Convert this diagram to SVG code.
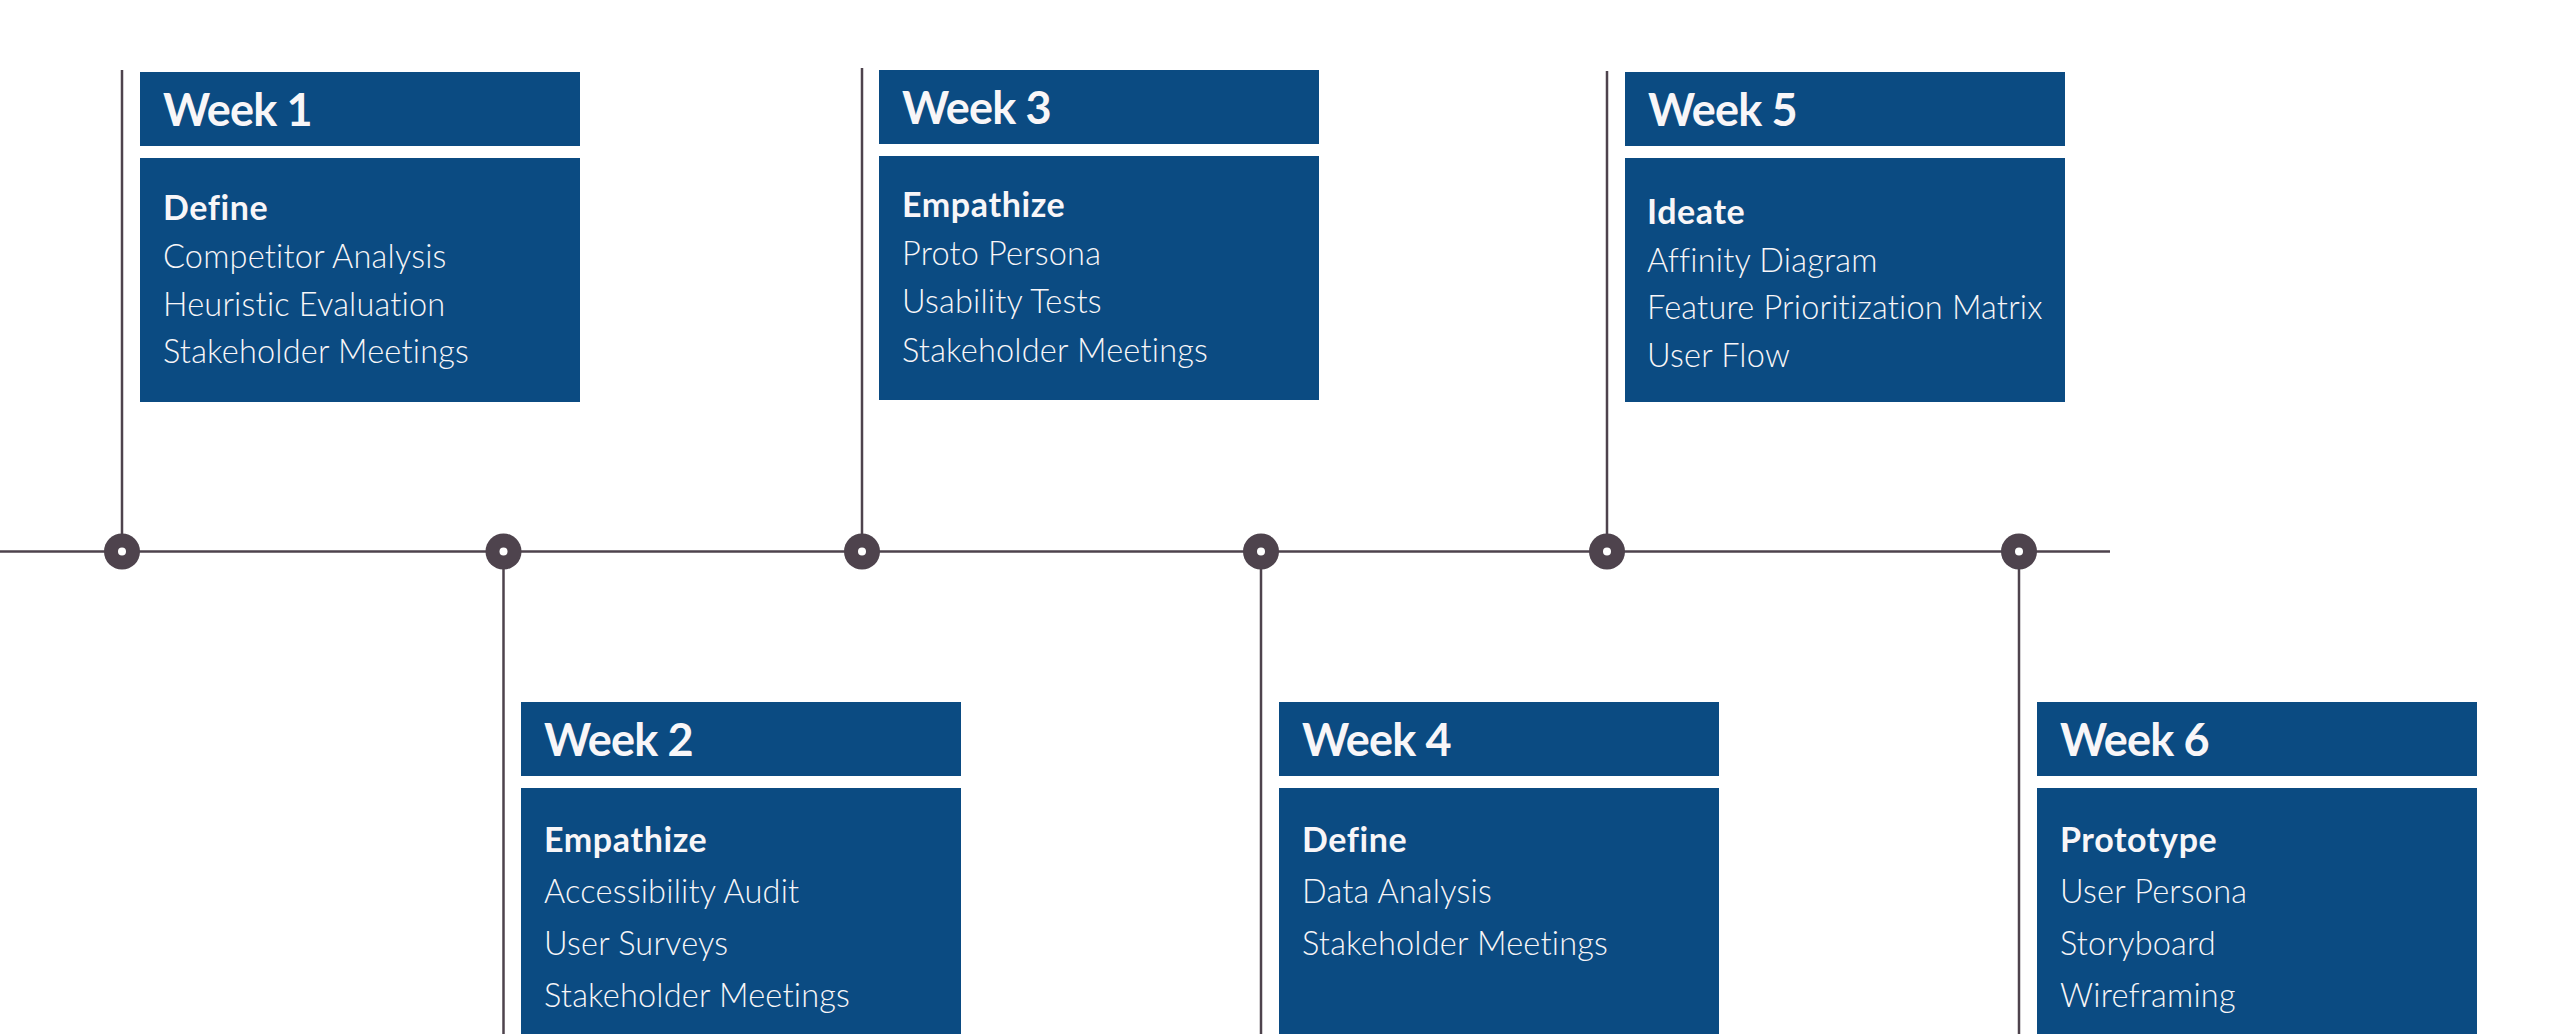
<svg xmlns="http://www.w3.org/2000/svg" width="2560" height="1034" viewBox="0 0 2560 1034">
<style>
  .box { fill: #0b4b82; }
  .line { stroke: #4e434d; stroke-width: 2.5; fill: none; }
  .dot { fill: #4e434d; }
  .hole { fill: #ffffff; }
  .title { font-family: Lato, "Liberation Sans", sans-serif; font-weight: 700; font-size: 45px; letter-spacing: -0.8px; fill: #f8f6f8; }
  .phase { font-family: Lato, "Liberation Sans", sans-serif; font-weight: 700; font-size: 34px; letter-spacing: 0.6px; fill: #f8f6f8; }
  .item { font-family: Lato, "Liberation Sans", sans-serif; font-weight: 300; font-size: 32.5px; letter-spacing: 0.2px; fill: #f8f6f8; }
</style>
<rect width="2560" height="1034" fill="#ffffff"/>
<g id="connectors">
  <line class="line" x1="0" y1="551.5" x2="2110" y2="551.5"/>
  <line class="line" x1="122" y1="70" x2="122" y2="551.5"/>
  <line class="line" x1="862" y1="68" x2="862" y2="551.5"/>
  <line class="line" x1="1607" y1="71" x2="1607" y2="551.5"/>
  <line class="line" x1="503.5" y1="551.5" x2="503.5" y2="1034"/>
  <line class="line" x1="1261" y1="551.5" x2="1261" y2="1034"/>
  <line class="line" x1="2019" y1="551.5" x2="2019" y2="1034"/>
</g>
<g id="markers">
  <circle class="dot" cx="122" cy="551.5" r="18"/><circle class="hole" cx="122" cy="551.5" r="4"/>
  <circle class="dot" cx="503.5" cy="551.5" r="18"/><circle class="hole" cx="503.5" cy="551.5" r="4"/>
  <circle class="dot" cx="862" cy="551.5" r="18"/><circle class="hole" cx="862" cy="551.5" r="4"/>
  <circle class="dot" cx="1261" cy="551.5" r="18"/><circle class="hole" cx="1261" cy="551.5" r="4"/>
  <circle class="dot" cx="1607" cy="551.5" r="18"/><circle class="hole" cx="1607" cy="551.5" r="4"/>
  <circle class="dot" cx="2019" cy="551.5" r="18"/><circle class="hole" cx="2019" cy="551.5" r="4"/>
</g>
<g id="week1">
  <rect class="box" x="140" y="72" width="440" height="74"/>
  <rect class="box" x="140" y="158" width="440" height="244"/>
  <text class="title" x="163" y="126">Week 1</text>
  <text class="phase" x="163" y="220">Define</text>
  <text class="item" x="163" y="268">Competitor Analysis</text>
  <text class="item" x="163" y="316">Heuristic Evaluation</text>
  <text class="item" x="163" y="363">Stakeholder Meetings</text>
</g>
<g id="week2">
  <rect class="box" x="521" y="702" width="440" height="74"/>
  <rect class="box" x="521" y="788" width="440" height="246"/>
  <text class="title" x="544" y="756">Week 2</text>
  <text class="phase" x="544" y="852">Empathize</text>
  <text class="item" x="544" y="903">Accessibility Audit</text>
  <text class="item" x="544" y="955">User Surveys</text>
  <text class="item" x="544" y="1007">Stakeholder Meetings</text>
</g>
<g id="week3">
  <rect class="box" x="879" y="70" width="440" height="74"/>
  <rect class="box" x="879" y="156" width="440" height="244"/>
  <text class="title" x="902" y="124">Week 3</text>
  <text class="phase" x="902" y="217">Empathize</text>
  <text class="item" x="902" y="265">Proto Persona</text>
  <text class="item" x="902" y="313">Usability Tests</text>
  <text class="item" x="902" y="362">Stakeholder Meetings</text>
</g>
<g id="week4">
  <rect class="box" x="1279" y="702" width="440" height="74"/>
  <rect class="box" x="1279" y="788" width="440" height="246"/>
  <text class="title" x="1302" y="756">Week 4</text>
  <text class="phase" x="1302" y="852">Define</text>
  <text class="item" x="1302" y="903">Data Analysis</text>
  <text class="item" x="1302" y="955">Stakeholder Meetings</text>
</g>
<g id="week5">
  <rect class="box" x="1625" y="72" width="440" height="74"/>
  <rect class="box" x="1625" y="158" width="440" height="244"/>
  <text class="title" x="1648" y="126">Week 5</text>
  <text class="phase" x="1647" y="224">Ideate</text>
  <text class="item" x="1647" y="272">Affinity Diagram</text>
  <text class="item" x="1647" y="319">Feature Prioritization Matrix</text>
  <text class="item" x="1647" y="367">User Flow</text>
</g>
<g id="week6">
  <rect class="box" x="2037" y="702" width="440" height="74"/>
  <rect class="box" x="2037" y="788" width="440" height="246"/>
  <text class="title" x="2060" y="756">Week 6</text>
  <text class="phase" x="2060" y="852">Prototype</text>
  <text class="item" x="2060" y="903">User Persona</text>
  <text class="item" x="2060" y="955">Storyboard</text>
  <text class="item" x="2060" y="1007">Wireframing</text>
</g>
</svg>
